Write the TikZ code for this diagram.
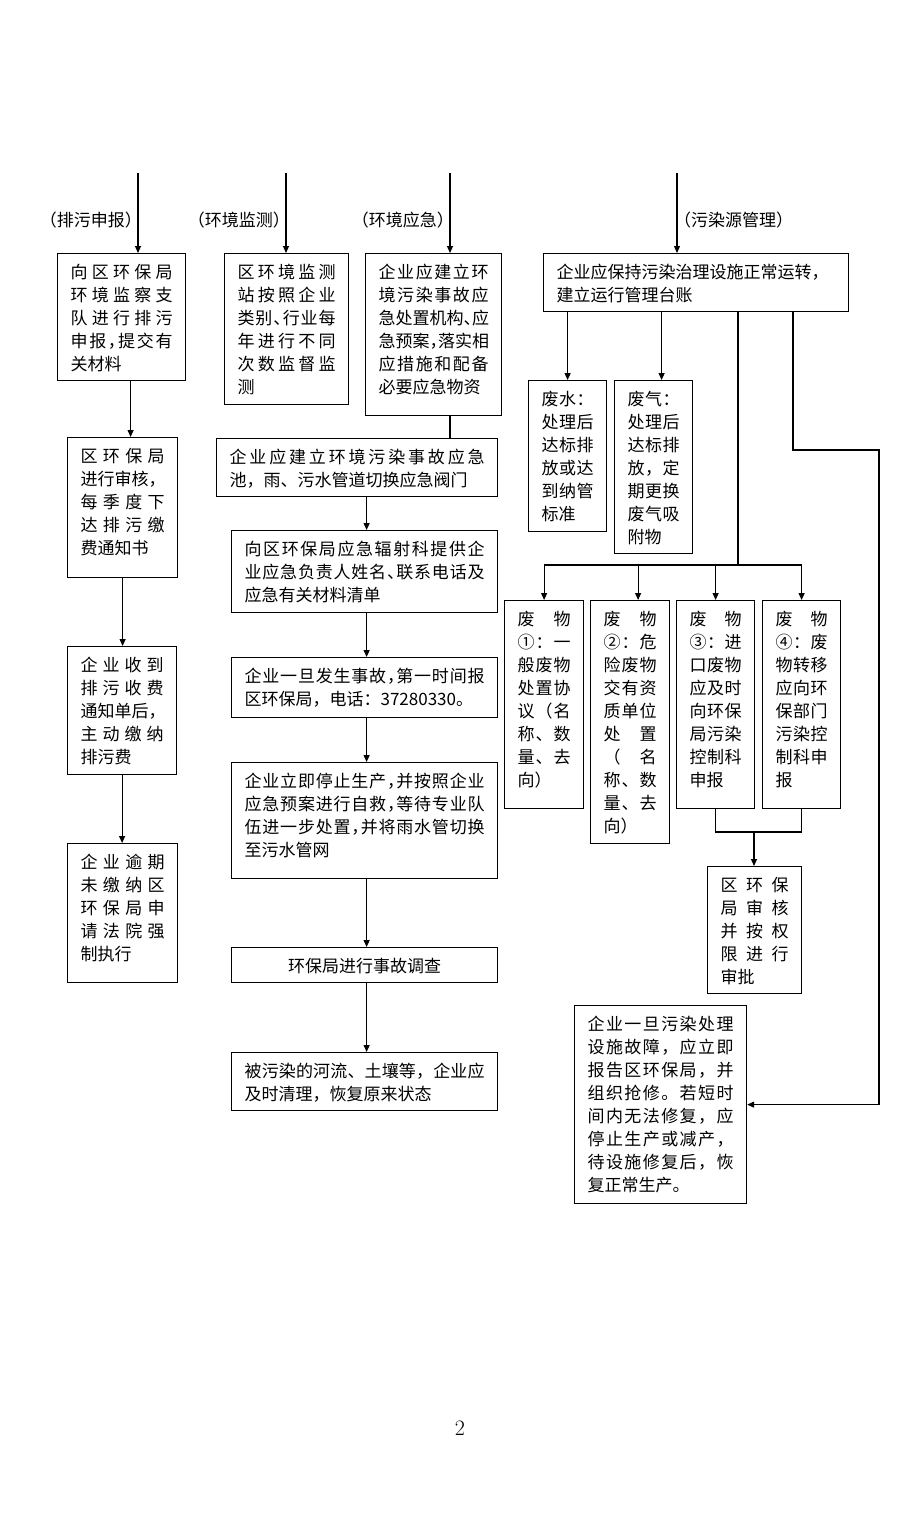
\documentclass[tikz,border=0pt]{standalone}
\usepackage{fontspec}
\newfontfamily\cjk{Noto Sans CJK SC}
\usetikzlibrary{arrows.meta}
\makeatletter
\newcommand\sline[1]{\leavevmode\hbox to\hsize{\@tfor\sl@c:=#1\do{\sl@c\hfil}\unskip}}
\makeatother
\newcommand\hd{\makebox[.5em][l]{、}}
\newcommand\hc{\makebox[.5em][l]{，}}

\begin{document}
\begin{tikzpicture}[x=1pt, y=-1pt,
    box/.style={draw, line width=1.2pt, anchor=north west, inner xsep=13pt, inner ysep=8pt,
      text height=17pt, align=left, font=\cjk\fontsize{17pt}{23pt}\selectfont},
    lab/.style={inner sep=0pt, font=\cjk\fontsize{17pt}{20pt}\selectfont},
    ln/.style={line width=1.2pt},
    arr/.style={line width=1.2pt, -{Triangle[length=7pt,width=6pt]}}]
  \useasboundingbox (0,0) rectangle (920,1534);

  % top inputs
  \coordinate (t1) at (138,173);
  \coordinate (t2) at (286,173);
  \coordinate (t3) at (450,173);
  \coordinate (t4) at (677,173);
  \node[lab, anchor=east] (l1) at (142,220) {（排污申报）};
  \node[lab, anchor=east] (l2) at (290,220) {（环境监测）};
  \node[lab, anchor=east] (l3) at (454,220) {（环境应急）};
  \node[lab, anchor=west] (l4) at (674,220) {（污染源管理）};

  % first row
  \node[box, text width=102pt, text depth=94pt] (b1) at (57,253)
    {\sline{向区环保局}\\\sline{环境监察支}\\\sline{队进行排污}\\\sline{申报\hc 提交有}\\关材料};
  \node[box, text width=98pt, text depth=118pt] (b2) at (224,253)
    {\sline{区环境监测}\\\sline{站按照企业}\\\sline{类别\hd 行业每}\\\sline{年进行不同}\\\sline{次数监督监}\\测};
  \node[box, text width=110pt, text depth=129pt] (b3) at (365,253)
    {\sline{企业应建立环}\\\sline{境污染事故应}\\\sline{急处置机构\hd 应}\\\sline{急预案\hc 落实相}\\\sline{应措施和配备}\\必要应急物资};
  \node[box, text width=279pt, text depth=25pt] (b4) at (543,253)
    {企业应保持污染治理设施正常运转，\\建立运行管理台账};

  % 排污申报
  \node[box, text width=84pt, text depth=107pt] (a2) at (67,437)
    {\sline{区环保局}\\\sline{进行审核，}\\\sline{每季度下}\\\sline{达排污缴}\\费通知书};
  \node[box, text width=83pt, text depth=95pt] (a3) at (67,646)
    {\sline{企业收到}\\\sline{排污收费}\\\sline{通知单后，}\\\sline{主动缴纳}\\排污费};
  \node[box, text width=84pt, text depth=106pt] (a4) at (67,843)
    {\sline{企业逾期}\\\sline{未缴纳区}\\\sline{环保局申}\\\sline{请法院强}\\制执行};

  % 环境应急
  \node[box, text width=255pt, text depth=25pt] (e2) at (216,438)
    {\sline{企业应建立环境污染事故应急}\\池，雨、污水管道切换应急阀门};
  \node[box, text width=240pt, text depth=49pt] (e3) at (231,530)
    {\sline{向区环保局应急辐射科提供企}\\\sline{业应急负责人姓名\hd 联系电话及}\\应急有关材料清单};
  \node[box, text width=240pt, text depth=27pt] (e4) at (231,657)
    {\sline{企业一旦发生事故\hc 第一时间报}\\区环保局，电话：37280330。};
  \node[box, text width=240pt, text depth=83pt] (e5) at (231,762)
    {\sline{企业立即停止生产\hc 并按照企业}\\\sline{应急预案进行自救\hc 等待专业队}\\\sline{伍进一步处置\hc 并将雨水管切换}\\至污水管网};
  \node[box, text width=240pt, text depth=2pt, align=center] (e6) at (231,947)
    {环保局进行事故调查};
  \node[box, text width=240pt, text depth=25pt] (e7) at (231,1052)
    {\sline{被污染的河流、土壤等，企业应}\\及时清理，恢复原来状态};

  % 污染源管理
  \node[box, text width=52pt, text depth=118pt] (p1) at (528,380)
    {\sline{废水：}\\\sline{处理后}\\\sline{达标排}\\\sline{放或达}\\\sline{到纳管}\\标准};
  \node[box, text width=52pt, text depth=140pt] (p2) at (614,380)
    {\sline{废气：}\\\sline{处理后}\\\sline{达标排}\\\sline{放，定}\\\sline{期更换}\\\sline{废气吸}\\附物};
  \node[box, text width=53pt, text depth=175pt] (w1) at (504,600)
    {\sline{废物}\\\sline{①：一}\\\sline{般废物}\\\sline{处置协}\\\sline{议（名}\\\sline{称、数}\\\sline{量、去}\\向）};
  \node[box, text width=53pt, text depth=210pt] (w2) at (590,600)
    {\sline{废物}\\\sline{②：危}\\\sline{险废物}\\\sline{交有资}\\\sline{质单位}\\\sline{处置}\\\sline{（名}\\\sline{称、数}\\\sline{量、去}\\向）};
  \node[box, text width=52pt, text depth=175pt] (w3) at (676,600)
    {\sline{废物}\\\sline{③：进}\\\sline{口废物}\\\sline{应及时}\\\sline{向环保}\\\sline{局污染}\\\sline{控制科}\\申报};
  \node[box, text width=52pt, text depth=175pt] (w4) at (762,600)
    {\sline{废物}\\\sline{④：废}\\\sline{物转移}\\\sline{应向环}\\\sline{保部门}\\\sline{污染控}\\\sline{制科申}\\报};
  \node[box, text width=68pt, text depth=94pt] (ap) at (707,866)
    {\sline{区环保}\\\sline{局审核}\\\sline{并按权}\\\sline{限进行}\\审批};
  \node[box, text width=146pt, text depth=165pt] (fx) at (574,1005)
    {\sline{企业一旦污染处理}\\\sline{设施故障，应立即}\\\sline{报告区环保局，并}\\\sline{组织抢修。若短时}\\\sline{间内无法修复，应}\\\sline{停止生产或减产，}\\\sline{待设施修复后，恢}\\复正常生产。};

  \node[font=\fontsize{22pt}{24pt}\selectfont] (pg) at (460,1428) {2};

  % connectors
  \draw[arr] (t1) -- (t1 |- b1.north);
  \draw[arr] (t2) -- (t2 |- b2.north);
  \draw[arr] (t3) -- (t3 |- b3.north);
  \draw[arr] (t4) -- (t4 |- b4.north);

  \draw[arr] ([xshift=9pt]b1.south) -- ([xshift=9pt]b1.south |- a2.north);
  \draw[arr] (a2.south) -- (a2.south |- a3.north);
  \draw[arr] (a3.south) -- (a3.south |- a4.north);

  \draw[ln] (t3 |- b3.south) -- (t3 |- e2.north);
  \draw[arr] ([xshift=2pt]e3.north |- e2.south) -- ([xshift=2pt]e3.north);
  \draw[arr] ([xshift=2pt]e3.south) -- ([xshift=2pt]e4.north);
  \draw[arr] ([xshift=2pt]e4.south) -- ([xshift=2pt]e5.north);
  \draw[arr] ([xshift=2pt]e5.south) -- ([xshift=2pt]e6.north);
  \draw[arr] ([xshift=2pt]e6.south) -- ([xshift=2pt]e7.north);

  \draw[arr] (p1.north |- b4.south) -- (p1.north);
  \draw[arr] ([xshift=8pt]p2.north |- b4.south) -- ([xshift=8pt]p2.north);

  \coordinate (br) at (738,565);
  \draw[ln] (br |- b4.south) -- (br);
  \draw[ln] (w1.north |- br) -- (w4.north |- br);
  \draw[arr] (w1.north |- br) -- (w1.north);
  \draw[arr] ([xshift=8pt]w2.north |- br) -- ([xshift=8pt]w2.north);
  \draw[arr] (w3.north |- br) -- (w3.north);
  \draw[arr] (w4.north |- br) -- (w4.north);

  \coordinate (mg) at (754,832);
  \draw[ln] (w3.south) |- (mg) -| (w4.south);
  \draw[arr] (mg) -- (mg |- ap.north);

  \coordinate (rd) at (793,450);
  \coordinate (rt) at (879,450);
  \draw[arr] (rd |- b4.south) -- (rd) -- (rt) |- (fx.east);
\end{tikzpicture}
\end{document}
